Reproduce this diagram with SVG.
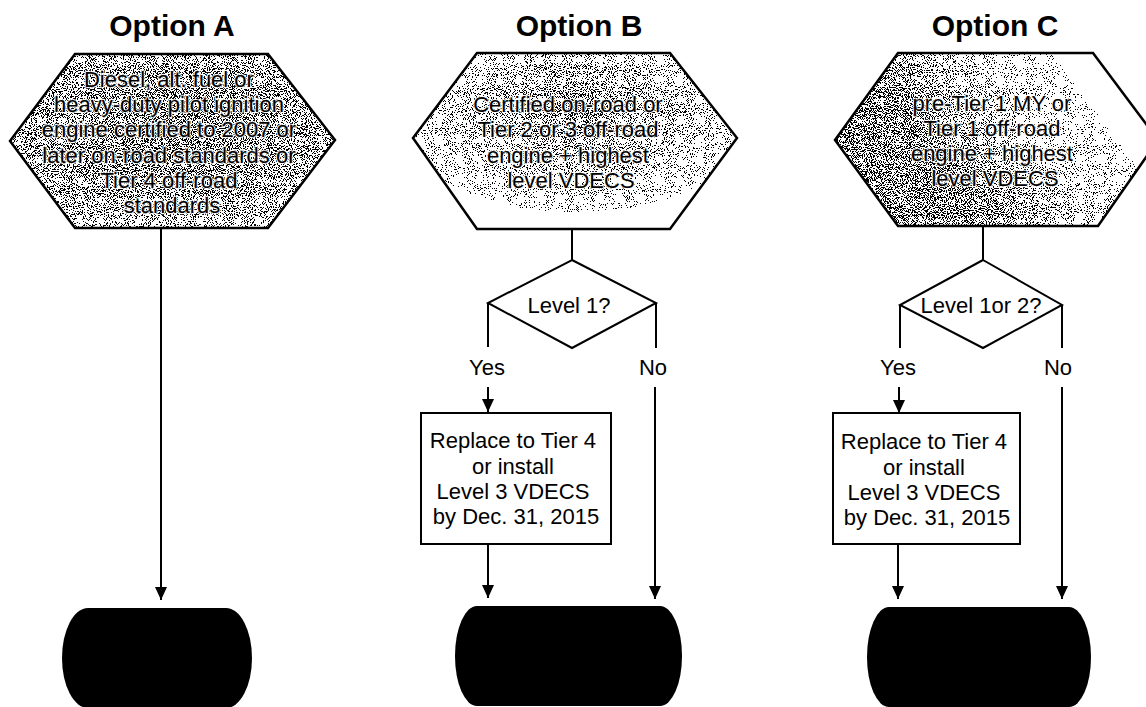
<svg xmlns="http://www.w3.org/2000/svg" width="1146" height="707" viewBox="0 0 1146 707">
  <style>
    .title { font-family: "Liberation Sans", Arial, sans-serif; font-size: 30px; font-weight: bold; fill: #000; text-anchor: middle; }
    .label { font-family: "Liberation Sans", Arial, sans-serif; font-size: 22px; fill: #000; text-anchor: middle; }
    .halo { stroke: #fff; stroke-width: 2.5px; stroke-opacity: 0.75; paint-order: stroke; stroke-linejoin: round; }
    .edge { fill: none; stroke: #000; stroke-width: 2.5; }
    .box { fill: #fff; stroke: #000; stroke-width: 2; }
    .diamond { fill: #fff; stroke: #000; stroke-width: 2; }
    .term { fill: #000; }
    .wire { fill: none; stroke: #000; stroke-width: 2; }
    .arrow { fill: none; stroke: #000; stroke-width: 2; marker-end: url(#head); }
  </style>
  <defs>
    <marker id="head" markerUnits="userSpaceOnUse" markerWidth="14" markerHeight="14" viewBox="0 0 14 14" refX="13" refY="7" orient="auto">
      <path d="M0,1 L13,7 L0,13 Z" fill="#000"/>
    </marker>
    <!-- dither: gray level of the fill becomes density of black dots -->
    <filter id="grain" x="0" y="0" width="1" height="1" color-interpolation-filters="sRGB">
      <feTurbulence type="fractalNoise" baseFrequency="0.95" numOctaves="2" seed="7" result="raw"/>
      <feColorMatrix in="raw" type="matrix" values="1 0 0 0 0  1 0 0 0 0  1 0 0 0 0  0 0 0 0 1" result="gray"/>
      <feComponentTransfer in="gray" result="noise">
        <feFuncR type="linear" slope="3.2" intercept="-1.1"/>
        <feFuncG type="linear" slope="3.2" intercept="-1.1"/>
        <feFuncB type="linear" slope="3.2" intercept="-1.1"/>
      </feComponentTransfer>
      <feComposite in="SourceGraphic" in2="noise" operator="arithmetic" k1="0" k2="1" k3="-1" k4="0.5" result="diff"/>
      <feComponentTransfer in="diff" result="bw">
        <feFuncR type="discrete" tableValues="0 1"/>
        <feFuncG type="discrete" tableValues="0 1"/>
        <feFuncB type="discrete" tableValues="0 1"/>
        <feFuncA type="discrete" tableValues="1 1"/>
      </feComponentTransfer>
      <feComposite in="bw" in2="SourceAlpha" operator="in"/>
    </filter>
    <radialGradient id="shadeA" cx="0.5" cy="0.45" r="0.6">
      <stop offset="0" stop-color="#444444"/>
      <stop offset="0.7" stop-color="#686868"/>
      <stop offset="1" stop-color="#858585"/>
    </radialGradient>
    <radialGradient id="shadeB" cx="0.5" cy="0.35" r="0.6">
      <stop offset="0" stop-color="#555555"/>
      <stop offset="0.55" stop-color="#909090"/>
      <stop offset="1" stop-color="#c8c8c8"/>
    </radialGradient>
    <linearGradient id="shadeC" x1="0" y1="0.7" x2="1" y2="0.3">
      <stop offset="0" stop-color="#555555"/>
      <stop offset="0.3" stop-color="#4e4e4e"/>
      <stop offset="0.6" stop-color="#a0a0a0"/>
      <stop offset="1" stop-color="#d8d8d8"/>
    </linearGradient>
  </defs>

  <rect width="1146" height="707" fill="#fff"/>

  <!-- column titles -->
  <g id="titles">
    <text class="title" x="172" y="36">Option A</text>
    <text class="title" x="579" y="36">Option B</text>
    <text class="title" x="995" y="36">Option C</text>
  </g>

  <!-- connectors -->
  <g id="connectors">
    <!-- Option A -->
    <path class="arrow" d="M161,228 V600"/>
    <!-- Option B -->
    <path class="wire" d="M572,229 V260"/>
    <path class="wire" d="M488,303 V347"/>
    <path class="arrow" d="M488,387 V412"/>
    <path class="wire" d="M656,303 V348"/>
    <path class="arrow" d="M655,387 V599"/>
    <path class="arrow" d="M488,544 V598"/>
    <!-- Option C -->
    <path class="wire" d="M983,226 V260"/>
    <path class="wire" d="M900,305 V348"/>
    <path class="arrow" d="M899,387 V413"/>
    <path class="wire" d="M1062,305 V348"/>
    <path class="arrow" d="M1062,387 V599"/>
    <path class="arrow" d="M898,544 V599"/>
  </g>

  <!-- Option A nodes -->
  <g id="hexA">
    <polygon points="10,141 75,54 268,54 335,140 268,228 75,228" fill="url(#shadeA)" filter="url(#grain)"/>
    <polygon class="edge" points="10,141 75,54 268,54 335,140 268,228 75,228"/>
    <text class="label halo">
      <tspan x="172" y="87">Diesel, alt. fuel or</tspan>
      <tspan x="172" y="112.2">heavy-duty pilot ignition</tspan>
      <tspan x="172" y="137.4">engine certified to 2007 or</tspan>
      <tspan x="172" y="162.6">later on-road standards or</tspan>
      <tspan x="172" y="187.8">Tier 4 off-road</tspan>
      <tspan x="172" y="213">standards</tspan>
    </text>
  </g>
  <g id="endA">
    <rect class="term" x="62" y="608" width="190" height="100" rx="26" ry="50"/>
  </g>

  <!-- Option B nodes -->
  <g id="hexB">
    <polygon points="413,138 477,53 670,53 737,138 670,229 477,229" fill="url(#shadeB)" filter="url(#grain)"/>
    <polygon class="edge" points="413,138 477,53 670,53 737,138 670,229 477,229"/>
    <text class="label halo">
      <tspan x="571" y="111.5">Certified on-road or</tspan>
      <tspan x="571" y="137">Tier 2 or 3 off-road</tspan>
      <tspan x="571" y="162.5">engine + highest</tspan>
      <tspan x="571" y="188">level VDECS</tspan>
    </text>
  </g>
  <g id="decisionB">
    <polygon class="diamond" points="572,260 656,303 572,348 488,303"/>
    <text class="label" x="569" y="313">Level 1?</text>
  </g>
  <g id="labelsB">
    <text class="label" x="487" y="375">Yes</text>
    <text class="label" x="653" y="375">No</text>
  </g>
  <g id="boxB">
    <rect class="box" x="421" y="413" width="190" height="131"/>
    <text class="label">
      <tspan x="516" y="448">Replace to Tier 4</tspan>
      <tspan x="516" y="474">or install</tspan>
      <tspan x="516" y="499">Level 3 VDECS</tspan>
      <tspan x="516" y="524">by Dec. 31, 2015</tspan>
    </text>
  </g>
  <g id="endB">
    <rect class="term" x="455" y="606" width="227" height="100" rx="22" ry="50"/>
  </g>

  <!-- Option C nodes -->
  <g id="hexC">
    <polygon points="835,140 898,53 1093,53 1158,140 1098,226 898,226" fill="url(#shadeC)" filter="url(#grain)"/>
    <polygon class="edge" points="835,140 898,53 1093,53 1158,140 1098,226 898,226"/>
    <text class="label halo">
      <tspan x="995" y="111">pre-Tier 1 MY or</tspan>
      <tspan x="995" y="136">Tier 1 off-road</tspan>
      <tspan x="995" y="161">engine + highest</tspan>
      <tspan x="995" y="186">level VDECS</tspan>
    </text>
  </g>
  <g id="decisionC">
    <polygon class="diamond" points="983,260 1062,305 983,348 900,305"/>
    <text class="label" x="981" y="313">Level 1or 2?</text>
  </g>
  <g id="labelsC">
    <text class="label" x="898" y="375">Yes</text>
    <text class="label" x="1058" y="375">No</text>
  </g>
  <g id="boxC">
    <rect class="box" x="833" y="413" width="187" height="131"/>
    <text class="label">
      <tspan x="927" y="449">Replace to Tier 4</tspan>
      <tspan x="927" y="475">or install</tspan>
      <tspan x="927" y="500">Level 3 VDECS</tspan>
      <tspan x="927" y="525">by Dec. 31, 2015</tspan>
    </text>
  </g>
  <g id="endC">
    <rect class="term" x="867" y="607" width="224" height="100" rx="22" ry="50"/>
  </g>
</svg>
